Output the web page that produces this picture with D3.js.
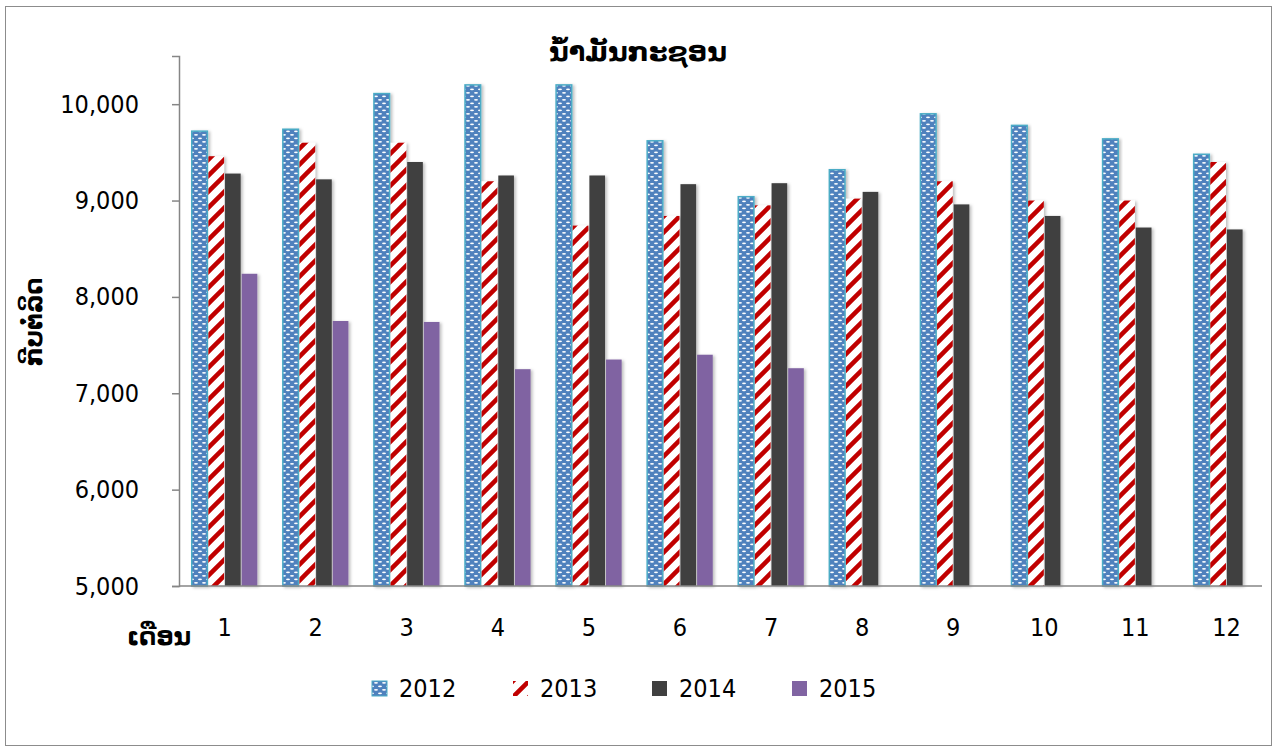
<!DOCTYPE html>
<meta charset="utf-8">
<head>
  <title>Diesel price by month</title>
</head>

<style>
body {
  margin: 0;
  background: #fff;
}
text.num {
  font-family: "DejaVu Sans Condensed", "DejaVu Sans", sans-serif;
  font-size: 25px;
  fill: #000;
}
text.lao {
  font-family: "DejaVu Sans", sans-serif;
  font-weight: bold;
  fill: #000;
}
</style>

<body>
  <div id="content"></div>

  <script src="https://cdnjs.cloudflare.com/ajax/libs/d3/7.8.5/d3.min.js"></script>

  <script>
// months along the bottom
var months = ['1', '2', '3', '4', '5', '6', '7', '8', '9', '10', '11', '12'];
var years = ['2012', '2013', '2014', '2015'];

// kip per litre
var v2012 = [9720, 9740, 10110, 10200, 10200, 9620, 9040, 9320, 9900, 9780, 9640, 9480];
var v2013 = [9460, 9600, 9600, 9200, 8740, 8840, 8950, 9020, 9200, 9000, 9000, 9400];
var v2014 = [9280, 9220, 9400, 9260, 9260, 9170, 9180, 9090, 8960, 8840, 8720, 8700];
var v2015 = [8240, 7750, 7740, 7250, 7350, 7400, 7260];

var yTicks = [5000, 6000, 7000, 8000, 9000, 10000];

var series = [v2012, v2013, v2014, v2015];

var W = 1275, H = 751;
// plot box (note: "top" is taken by window.top, so use other names)
var plotL = 179, plotR = 1272, plotT = 56, plotB = 586;

var svg = d3.select('#content').append('svg')
  .attr('width', W)
  .attr('height', H);

// patterns + shadow
var defs = svg.append('defs');

var p1 = defs.append('pattern')
  .attr('id', 'pat2012')
  .attr('patternUnits', 'userSpaceOnUse')
  .attr('width', 8).attr('height', 7);
p1.append('rect').attr('width', 8).attr('height', 7).attr('fill', '#4f81bd');
p1.append('ellipse').attr('cx', 4).attr('cy', 1.8).attr('rx', 2).attr('ry', 0.9).attr('fill', '#fff');
p1.append('ellipse').attr('cx', 0).attr('cy', 5.3).attr('rx', 2).attr('ry', 0.9).attr('fill', '#fff');
p1.append('ellipse').attr('cx', 8).attr('cy', 5.3).attr('rx', 2).attr('ry', 0.9).attr('fill', '#fff');

var p2 = defs.append('pattern')
  .attr('id', 'pat2013')
  .attr('patternUnits', 'userSpaceOnUse')
  .attr('width', 16).attr('height', 16);
p2.append('rect').attr('width', 16).attr('height', 16).attr('fill', '#fff');
p2.append('path')
  .attr('d', 'M-4,4 L4,-4 M0,16 L16,0 M12,20 L20,12')
  .attr('stroke', '#c00000')
  .attr('stroke-width', 4.5);

var sh = defs.append('filter').attr('id', 'shadow')
  .attr('x', '-30%').attr('y', '-10%').attr('width', '160%').attr('height', '120%');
sh.append('feDropShadow')
  .attr('dx', 2).attr('dy', 1)
  .attr('stdDeviation', 1.5)
  .attr('flood-color', '#000')
  .attr('flood-opacity', 0.25);

var fills = ['url(#pat2012)', 'url(#pat2013)', '#404040', '#8064a2'];

// frame
svg.append('rect')
  .attr('x', 5.5).attr('y', 6.5)
  .attr('width', 1266).attr('height', 739)
  .attr('fill', 'none')
  .attr('stroke', '#8c8c8c');

var x = d3.scaleBand()
  .domain(months)
  .range([plotL, plotR])
  .padding(0);

var xInner = d3.scaleBand()
  .domain(years)
  .range([x.bandwidth() * 0.14, x.bandwidth() * 0.86])
  .paddingInner(0.06);

var y = d3.scaleLinear()
  .domain([5000, 10500])
  .range([plotB, plotT]);

// bars
years.forEach(function(yr, si) {
  svg.append('g')
    .selectAll('rect')
    .data(series[si])
    .enter().append('rect')
    .attr('x', function(d, i) { return x(months[i]) + xInner(yr); })
    .attr('y', function(d) { return y(d); })
    .attr('width', xInner.bandwidth())
    .attr('height', function(d) { return y(5000) - y(d); })
    .attr('fill', fills[si])
    .attr('stroke', si == 0 ? '#4bacc6' : 'none')
    .attr('stroke-width', 1.5)
    .attr('filter', 'url(#shadow)');
});

// y axis
var yAxis = svg.append('g')
  .attr('transform', 'translate(' + plotL + ',0)')
  .call(d3.axisLeft(y).tickValues(yTicks).tickSize(7).tickPadding(33).tickFormat(d3.format(',')));
yAxis.select('.domain').attr('stroke', '#868686').attr('stroke-width', 1.5);
yAxis.selectAll('.tick line').attr('stroke', '#868686').attr('stroke-width', 1.5);
yAxis.selectAll('.tick text').attr('class', 'num').attr('font-size', null).attr('font-family', null);
yAxis.attr('font-size', null).attr('font-family', null);

// x axis (just the baseline, labels underneath)
svg.append('line')
  .attr('x1', plotL).attr('x2', 1262)
  .attr('y1', plotB).attr('y2', plotB)
  .attr('stroke', '#868686')
  .attr('stroke-width', 1.5);

svg.append('g')
  .selectAll('text')
  .data(months)
  .enter().append('text')
  .attr('class', 'num')
  .attr('x', function(d) { return x(d) + x.bandwidth() / 2; })
  .attr('y', 636)
  .attr('text-anchor', 'middle')
  .text(function(d) { return d; });

// titles
svg.append('text')
  .attr('class', 'lao')
  .attr('x', 638).attr('y', 61)
  .attr('text-anchor', 'middle')
  .style('font-size', '27px')
  .text('ນ້ໍາມັນກະຊອນ');

svg.append('text')
  .attr('class', 'lao')
  .attr('transform', 'translate(42,322) rotate(-90)')
  .attr('text-anchor', 'middle')
  .style('font-size', '24px')
  .text('ກີບຕໍ່ລິດ');

svg.append('text')
  .attr('class', 'lao')
  .attr('x', 159).attr('y', 645)
  .attr('text-anchor', 'middle')
  .style('font-size', '24px')
  .text('ເດືອນ');

// legend
var lx = [372, 513, 652, 792];
var leg = svg.append('g').selectAll('g')
  .data(years)
  .enter().append('g')
  .attr('transform', function(d, i) { return 'translate(' + lx[i] + ',681)'; });

leg.append('rect')
  .attr('width', 15).attr('height', 15)
  .attr('fill', function(d, i) { return fills[i]; })
  .attr('stroke', function(d, i) { return i == 0 ? '#4bacc6' : 'none'; });

leg.append('text')
  .attr('class', 'num')
  .attr('x', 27).attr('y', 16)
  .text(function(d) { return d; });
  </script>
</body>
</html>
